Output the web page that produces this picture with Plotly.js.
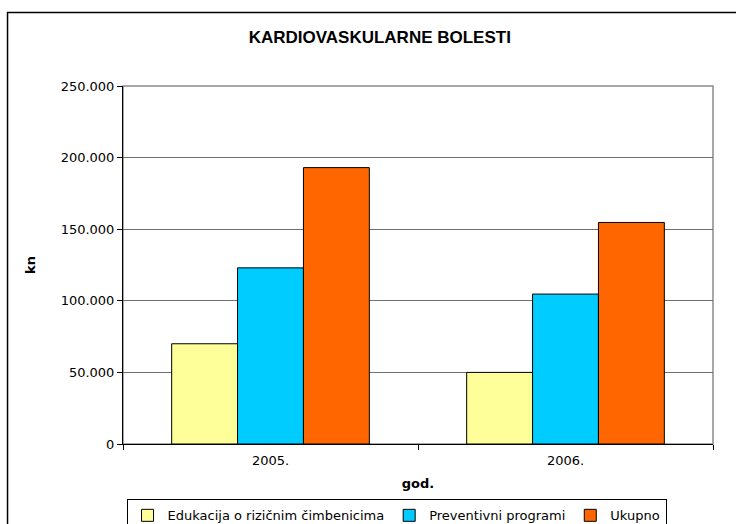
<!DOCTYPE html>
<html>
<head>
<meta charset="utf-8">
<script src="https://cdn.plot.ly/plotly-3.0.1.min.js"></script>
<style>html,body{margin:0;padding:0;background:#fff;}#chart{width:736px;height:524px;}</style>
</head>
<body>
<div id="chart"></div>
<script>
var years = ['2005.', '2006.'];
var seriesNames = ['Edukacija o rizičnim čimbenicima', 'Preventivni programi', 'Ukupno'];
var edukacija = [70000, 50000];
var preventivni = [123000, 104700];
var ukupno = [193000, 154700];
var seriesColors = ['#FFFF99', '#00CCFF', '#FF6600'];
var yTicks = [0, 50000, 100000, 150000, 200000, 250000];

var FONT = 'DejaVu Sans, Liberation Sans, Arial, sans-serif';
var allValues = [edukacija, preventivni, ukupno];
var traces = allValues.map(function (vals, i) {
  return {
    type: 'bar',
    name: seriesNames[i],
    x: years,
    y: vals,
    marker: {color: seriesColors[i], line: {color: '#000000', width: 1}},
    hoverinfo: 'x+y+name'
  };
});

var layout = {
  width: 736, height: 524,
  margin: {l: 122.5, r: 23.3, t: 85.7, b: 79.5, pad: 0, autoexpand: false},
  paper_bgcolor: '#ffffff', plot_bgcolor: '#ffffff',
  separators: ',.',
  font: {family: FONT, size: 13, color: '#000000'},
  title: {
    text: 'KARDIOVASKULARNE BOLESTI',
    font: {family: 'Liberation Sans, Arial, sans-serif', size: 17, weight: 'bold', color: '#000000'},
    x: 0.516, xref: 'container', xanchor: 'center',
    y: 1 - 37 / 524, yref: 'container', yanchor: 'middle'
  },
  barmode: 'group', bargap: 0.33, bargroupgap: 0,
  showlegend: true,
  legend: {
    orientation: 'h', x: 0.006, xanchor: 'left', y: -0.1547, yanchor: 'top',
    bordercolor: '#000000', borderwidth: 1, bgcolor: '#ffffff',
    font: {family: FONT, size: 13, color: '#000000'},
    traceorder: 'normal'
  },
  xaxis: {
    type: 'category',
    showline: true, linecolor: '#000000', linewidth: 1,
    ticks: 'outside', tickson: 'boundaries', ticklen: 5, tickcolor: '#000000',
    showgrid: false, zeroline: false,
    tickfont: {family: FONT, size: 13},
    ticklabelstandoff: 4,
    title: {text: 'god.', font: {family: FONT, size: 13, weight: 'bold'}, standoff: 12}
  },
  yaxis: {
    range: [0, 250000],
    tickvals: yTicks,
    tickformat: ',.0f',
    showline: true, linecolor: '#000000', linewidth: 1,
    ticks: 'outside', ticklen: 5, tickcolor: '#000000',
    showgrid: true, gridcolor: '#6e6e6e', gridwidth: 1,
    zeroline: false,
    tickfont: {family: FONT, size: 13},
    title: {text: 'kn', font: {family: FONT, size: 13, weight: 'bold'}, standoff: 22}
  },
  shapes: [
    {type: 'rect', xref: 'paper', yref: 'paper', x0: 0, x1: 1, y0: 0, y1: 1,
     line: {color: '#8a8a8a', width: 1.5}, fillcolor: 'rgba(0,0,0,0)', layer: 'below'},
    {type: 'rect', xref: 'paper', yref: 'paper', x0: -0.1957, x1: 1.05, y0: -0.25, y1: 1.2054,
     line: {color: '#000000', width: 1.5}, fillcolor: 'rgba(0,0,0,0)', layer: 'above'}
  ]
};

Plotly.newPlot('chart', traces, layout, {displayModeBar: false, staticPlot: true});
</script>
</body>
</html>
